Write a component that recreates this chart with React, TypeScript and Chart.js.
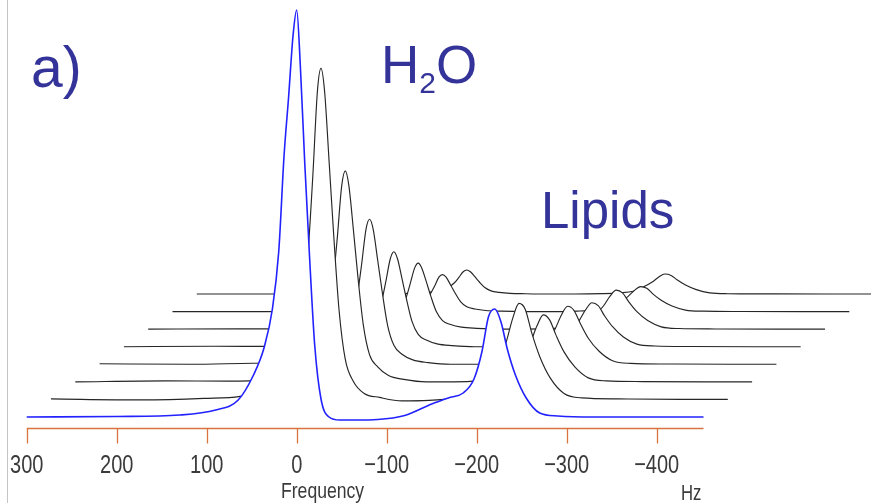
import React, { useEffect, useRef } from "react";
import { Chart, registerables } from "chart.js";

Chart.register(...registerables);

const FREQ_HZ = [300, 200, 130, 90, 65, 48, 36, 27, 20, 14, 9, 4, 0, -4, -9, -14, -20, -27, -36, -48, -65, -90, -120, -150, -170, -185, -197, -206, -213, -220, -227, -234, -243, -255, -270, -290, -330, -400, -452];

// Spectrum intensities (front trace first, blue)
const TRACE_0 = [0, 0.5, 2, 7, 17, 42, 70, 108, 165, 262, 320, 382, 407, 352, 253, 165, 72, 18, 0, -3, -3, -2.5, 1.5, 13, 19.5, 24, 38, 66, 100, 108, 95, 68, 42, 19, 4, 1, 0, 0, 0];
const TRACE_1 = [0.5, -0.5, 1, 3, 9, 18, 33, 58, 96, 152, 225, 308, 331, 308, 238, 166, 90, 40, 18, 6, 2, -1.5, -1, 1, 4, 10, 34, 58, 81, 96, 90, 67, 43, 21, 6, 1.5, 0.5, 0, 0];
const TRACE_2 = [0, 1, 0.7, 2, 6, 11, 21, 37, 61, 97, 143, 196, 211, 196, 152, 105, 57, 27, 15, 6.3, 2.5, 0, 0, 1.3, 4, 9, 25, 40, 56, 67, 62, 47, 30, 15, 4, 1, 0.3, 0, 0];
const TRACE_3 = [0.5, 0, 1, 1.5, 4, 8, 14.5, 25, 42, 67, 99, 135, 145, 135, 104, 72.5, 39, 19, 10, 4.4, 1.7, 0, 0, 1.2, 3.5, 8, 21.5, 35, 49, 58, 54, 41, 26, 13, 3.5, 0.9, 0.3, 0, 0];
const TRACE_4 = [0, 0.5, 0.3, 1, 2.6, 5, 9.5, 16.6, 27.5, 44, 65, 88, 95, 88, 68, 47.5, 25.6, 12.4, 6.7, 2.9, 1.1, 0, 0, 0.9, 2.6, 6.2, 16.3, 26.4, 37, 44, 41, 31, 20, 9.7, 2.6, 0.7, 0.2, 0, 0];
const TRACE_5 = [0, 0.3, 0.2, 0.6, 1.8, 3.6, 6.6, 11.5, 19, 30, 45, 61, 66, 61, 47.5, 33, 17.8, 8.6, 4.6, 2, 0.8, 0, 0, 0.8, 2.3, 5.5, 14.4, 23.4, 32.8, 39, 36.3, 27.3, 17.5, 8.6, 2.3, 0.6, 0.2, 0, 0];
const TRACE_6 = [0, 0, 0.1, 0.3, 1, 2, 3.7, 6.5, 10.7, 17, 25, 34.4, 37, 34.4, 26.6, 18.5, 10, 4.8, 2.6, 1.1, 0.4, 0, 0, 0.5, 1.5, 3.5, 9.3, 15, 21, 25, 23.3, 17.5, 11.3, 5.5, 1.5, 0.4, 0.1, 0, 0];
const TRACE_7 = [0, 0, 0.1, 0.2, 0.6, 1.3, 2.4, 4.2, 7, 11, 16.3, 22.3, 24, 22.3, 17.3, 12, 6.5, 3.1, 1.7, 0.7, 0.3, 0, 0, 0.4, 1.2, 2.8, 7.4, 12, 16.8, 20, 18.6, 14, 9, 4.4, 1.2, 0.3, 0.1, 0, 0];

const TRACES = [TRACE_0, TRACE_1, TRACE_2, TRACE_3, TRACE_4, TRACE_5, TRACE_6, TRACE_7];

// Waterfall offsets: each later spectrum is shifted in frequency and raised
const TRACE_SHIFT_HZ = 27;
const TRACE_RAISE = 17.57;

// Axis
const AXIS_TICKS = [300, 200, 100, 0, -100, -200, -300, -400];
const AXIS_MIN = -452;
const AXIS_MAX = 300;
const AXIS_TITLE = "Frequency";
const AXIS_UNIT = "Hz";

// Annotations
const PANEL_LABEL = "a)";
const WATER_LABEL = ["H", "2", "O"];
const LIPID_LABEL = "Lipids";

const FONT = '"Liberation Sans", Arial, sans-serif';

const overlayPlugin = {
  id: "overlay",
  afterDraw(chart: any) {
    const ctx = chart.ctx as CanvasRenderingContext2D;
    const xs = chart.scales.x;
    const area = chart.chartArea;
    ctx.save();

    // slide frame line at the left
    ctx.strokeStyle = "#c4c4c4";
    ctx.lineWidth = 1;
    ctx.beginPath();
    ctx.moveTo(7.5, 0);
    ctx.lineTo(7.5, chart.height);
    ctx.stroke();

    // orange frequency axis
    const y0 = area.bottom + 0.5;
    ctx.strokeStyle = "#d8743f";
    ctx.lineWidth = 1.6;
    ctx.beginPath();
    ctx.moveTo(xs.getPixelForValue(AXIS_MAX), y0);
    ctx.lineTo(xs.getPixelForValue(AXIS_MIN), y0);
    ctx.stroke();
    ctx.lineWidth = 1.3;
    for (const t of AXIS_TICKS) {
      const px = Math.round(xs.getPixelForValue(t)) + 0.5;
      ctx.beginPath();
      ctx.moveTo(px, y0);
      ctx.lineTo(px, y0 + 15);
      ctx.stroke();
    }

    // tick labels (narrow)
    ctx.fillStyle = "#3a3a3a";
    ctx.font = `26px ${FONT}`;
    ctx.textAlign = "center";
    ctx.textBaseline = "alphabetic";
    for (const t of AXIS_TICKS) {
      const label = t < 0 ? "\u2212" + Math.abs(t) : String(t);
      ctx.save();
      ctx.translate(xs.getPixelForValue(t), 473);
      ctx.scale(0.77, 1);
      ctx.fillText(label, 0, 0);
      ctx.restore();
    }

    ctx.textAlign = "left";
    ctx.font = `22px ${FONT}`;
    ctx.save();
    ctx.translate(281, 498);
    ctx.scale(0.8, 1);
    ctx.fillText(AXIS_TITLE, 0, 0);
    ctx.restore();
    ctx.save();
    ctx.translate(681, 500);
    ctx.scale(0.76, 1);
    ctx.fillText(AXIS_UNIT, 0, 0);
    ctx.restore();

    // annotations
    ctx.fillStyle = "#333399";
    ctx.font = `57px ${FONT}`;
    ctx.fillText(PANEL_LABEL, 31, 87);

    let x = 381;
    ctx.font = `53px ${FONT}`;
    ctx.fillText(WATER_LABEL[0], x, 83.3);
    x += ctx.measureText(WATER_LABEL[0]).width;
    ctx.font = `30px ${FONT}`;
    ctx.fillText(WATER_LABEL[1], x, 93.3);
    x += ctx.measureText(WATER_LABEL[1]).width;
    ctx.font = `53px ${FONT}`;
    ctx.fillText(WATER_LABEL[2], x, 83.3);

    ctx.font = `51px ${FONT}`;
    ctx.fillText(LIPID_LABEL, 541, 228.3);

    ctx.restore();
  },
};

export default function App() {
  const canvasRef = useRef<HTMLCanvasElement | null>(null);

  useEffect(() => {
    const canvas = canvasRef.current;
    if (!canvas) return;

    const datasets = TRACES.map((vals, i) => ({
      label: i === 0 ? "front" : `trace ${i}`,
      data: FREQ_HZ.map((f, j) => ({ x: f - TRACE_SHIFT_HZ * i, y: TRACE_RAISE * i + vals[j] })),
      borderColor: i === 0 ? "#2222ff" : "#262626",
      borderWidth: i === 0 ? 1.6 : 1.15,
      backgroundColor: "#ffffff",
      fill: "start",
      pointRadius: 0,
      cubicInterpolationMode: "monotone" as const,
      borderJoinStyle: "round" as const,
      clip: false as any,
    }));

    const chart = new Chart(canvas, {
      type: "line",
      data: { datasets },
      options: {
        responsive: false,
        devicePixelRatio: 1,
        animation: false,
        events: [],
        layout: { padding: { left: 26.7, right: 167.5, top: 0, bottom: 75 } },
        scales: {
          x: { type: "linear", reverse: true, min: AXIS_MIN, max: AXIS_MAX, display: false },
          y: { type: "linear", min: -11, max: 417, display: false },
        },
        plugins: {
          legend: { display: false },
          tooltip: { enabled: false },
        },
      },
      plugins: [overlayPlugin],
    });

    return () => chart.destroy();
  }, []);

  return (
    <div style={{ position: "fixed", left: 0, top: 0, width: 871, height: 503, background: "#ffffff" }}>
      <canvas ref={canvasRef} width={871} height={503} style={{ display: "block" }} />
    </div>
  );
}
